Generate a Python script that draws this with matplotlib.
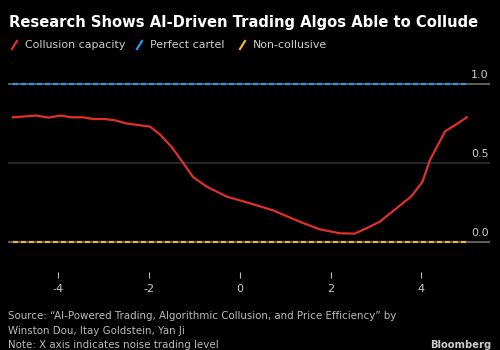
import matplotlib
matplotlib.use("Agg")
import matplotlib.pyplot as plt
from matplotlib.lines import Line2D

# Data
noise_x = [-5.0, -4.49, -4.22, -3.96, -3.71, -3.45, -3.23, -2.97, -2.75, -2.50, -2.24,
           -1.98, -1.76, -1.50, -1.25, -1.03, -0.73, -0.29, 0.22, 0.73, 1.32, 1.76,
           2.20, 2.53, 2.79, 3.08, 3.45, 3.78, 4.02, 4.19, 4.52, 4.77, 5.0]
collusion = [0.789, 0.80, 0.787, 0.80, 0.789, 0.789, 0.778, 0.778, 0.77, 0.75, 0.74,
             0.73, 0.68, 0.60, 0.50, 0.41, 0.35, 0.287, 0.245, 0.20, 0.128, 0.08,
             0.055, 0.053, 0.087, 0.128, 0.213, 0.29, 0.38, 0.52, 0.70, 0.745, 0.789]
cartel_x = [-5.0, 5.0]
cartel = [1.0, 1.0]
noncollusive = [0.0, 0.0]
xticks = [-4, -2, 0, 2, 4]
yticks = [0.0, 0.5, 1.0]
series_names = ["Collusion capacity", "Perfect cartel", "Non-collusive"]
colors = ["#e0302b", "#1e9be6", "#f2b632"]

title = "Research Shows AI-Driven Trading Algos Able to Collude"
source_lines = ["Source: \u201cAI-Powered Trading, Algorithmic Collusion, and Price Efficiency\u201d by",
                "Winston Dou, Itay Goldstein, Yan Ji",
                "Note: X axis indicates noise trading level"]

W, H = 500, 350
fig = plt.figure(figsize=(W / 100, H / 100), dpi=100, facecolor="black")
ax = fig.add_axes([8 / W, 1 - 272 / H, (490 - 8) / W, (272 - 65) / H], facecolor="black")

ax.set_xlim(-5.11, 5.51)
ax.set_ylim(-0.19, 1.12)

# gridlines
for yv in yticks:
    c = "#333333" if yv == 0.5 else "#7a7a7a"
    ax.axhline(yv, color=c, lw=1.1, zorder=1)

ax.plot(cartel_x, cartel, color=colors[1], lw=1.6, dashes=(2.2, 1.4), zorder=3)
ax.plot(cartel_x, noncollusive, color=colors[2], lw=1.6, dashes=(2.2, 1.4), zorder=3)
ax.plot(noise_x, collusion, color=colors[0], lw=1.6, zorder=4)

for s in ax.spines.values():
    s.set_visible(False)
ax.set_yticks([])
ax.set_xticks(xticks)
ax.set_xticklabels([str(t) for t in xticks])
ax.tick_params(axis="x", colors="#bbbbbb", labelcolor="#cccccc", length=4, width=0.8,
               pad=5, labelsize=8)

for yv in yticks:
    ax.annotate(f"{yv:.1f}", xy=(1.0, yv), xycoords=("axes fraction", "data"),
                xytext=(-1, 3), textcoords="offset points", ha="right", va="bottom",
                color="#cccccc", fontsize=8)

fig.text(9 / W, 1 - 22 / H, title, color="white", fontsize=10.6, fontweight="bold",
         ha="left", va="center")

# legend
leg_x = [12, 137, 240]
for xx, name, c in zip(leg_x, series_names, colors):
    fig.add_artist(Line2D([xx / W, (xx + 5) / W], [1 - 49 / H, 1 - 41 / H], color=c,
                          lw=1.6, transform=fig.transFigure))
    fig.text((xx + 13) / W, 1 - 45 / H, name, color="#cccccc", fontsize=7.9,
             ha="left", va="center")

for i, line in enumerate(source_lines):
    fig.text(8 / W, 1 - (316 + 14.5 * i) / H, line, color="#bbbbbb", fontsize=7.4,
             ha="left", va="center")
fig.text(491 / W, 1 - 345 / H, "Bloomberg", color="#cccccc", fontsize=7.2,
         fontweight="bold", ha="right", va="center")

fig.savefig("out.png", dpi=100, facecolor="black")
